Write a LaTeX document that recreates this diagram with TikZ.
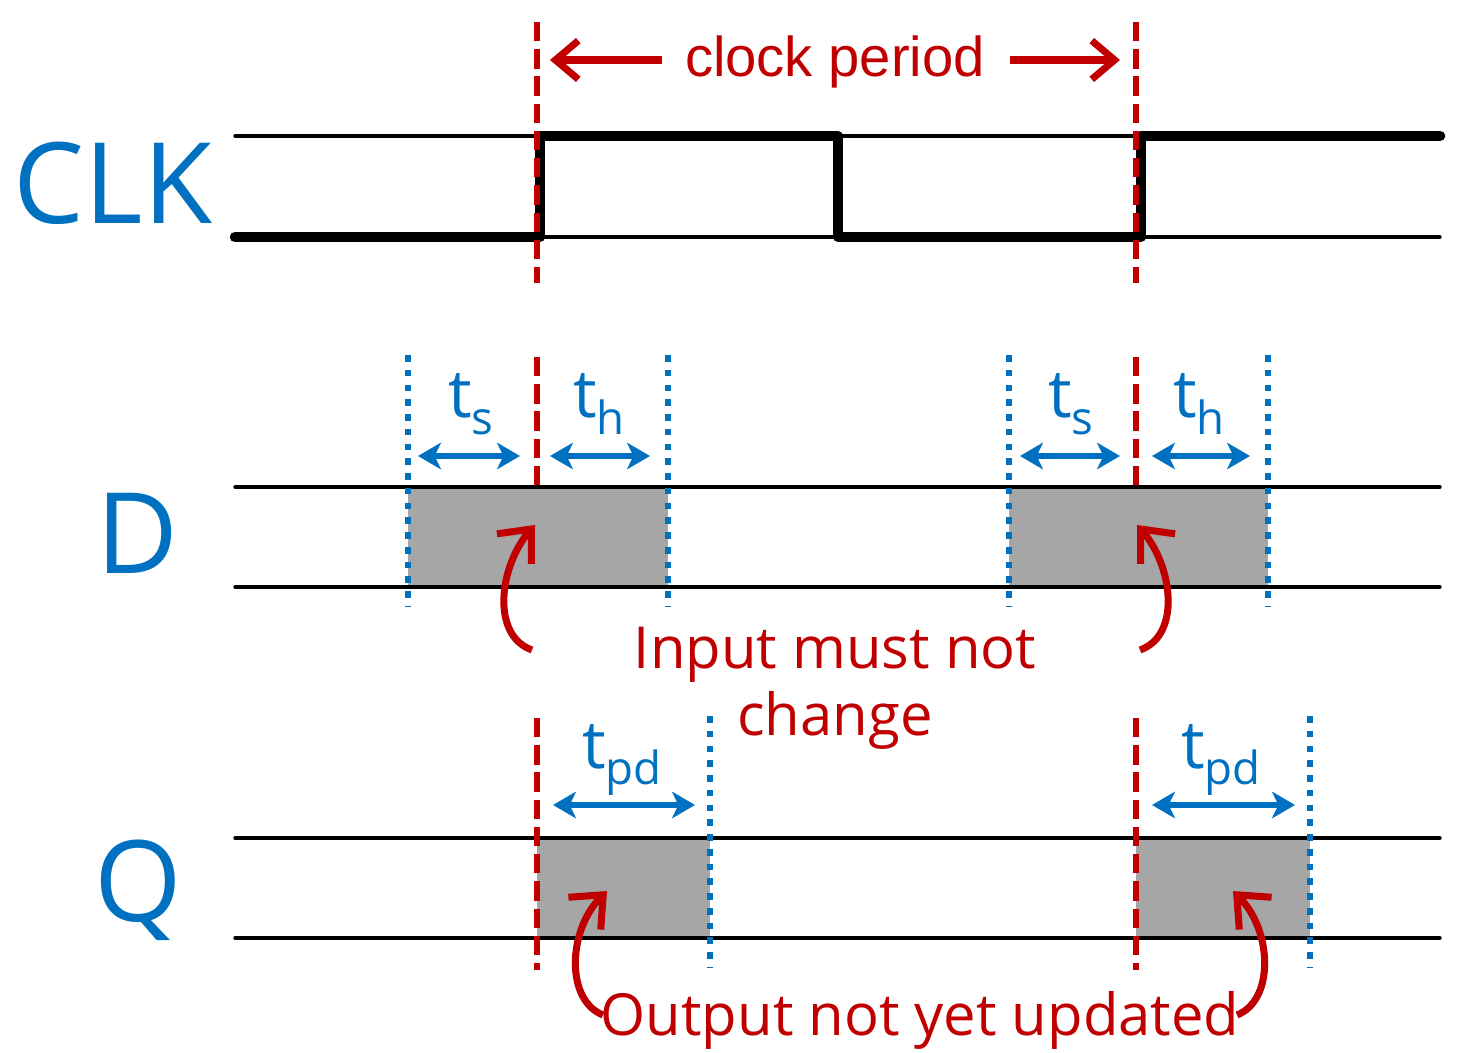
\documentclass[tikz,border=0pt]{standalone}
\usepackage{fontspec}
\setmainfont{Open Sans}
\newfontfamily\periodfont{Liberation Sans}
\usetikzlibrary{arrows.meta,positioning}
\definecolor{darkred}{RGB}{192,0,0}
\definecolor{sigblue}{RGB}{0,112,192}
\definecolor{holdgrey}{RGB}{166,166,166}
\newcommand{\tsub}[1]{t\raisebox{-9.6pt}{\fontsize{26}{26}\selectfont #1}}

\begin{document}
\begin{tikzpicture}[x=0.02cm, y=-0.02cm]
\tikzstyle{rail}=[line width=1.9pt, line cap=round]
\tikzstyle{wave}=[line width=6pt, line join=round, line cap=round]
\tikzstyle{clkedge}=[darkred, line width=3.8pt, dash pattern=on 11pt off 4.5pt]
\tikzstyle{window}=[sigblue, line width=3.8pt, dash pattern=on 3.8pt off 4.6pt]
\tikzstyle{span}=[sigblue, line width=3.4pt, {Stealth[length=13pt,width=15pt,inset=3.5pt]}-{Stealth[length=13pt,width=15pt,inset=3.5pt]}]
\tikzstyle{periodarrow}=[darkred, line width=4pt, -{Straight Barb[length=13pt,width=22pt]}]
\tikzstyle{note}=[darkred, line width=4pt, -{Straight Barb[length=15pt,width=26pt]}]
\tikzstyle{signame}=[sigblue, font=\fontsize{64}{64}\selectfont]
\tikzstyle{timing}=[sigblue, anchor=base, inner sep=0pt, font=\fontsize{38}{38}\selectfont]
\tikzstyle{remark}=[darkred, anchor=base, inner sep=0pt, font=\fontsize{33}{33}\selectfont]
\useasboundingbox (0,0) rectangle (1477,1053);

% hold windows
\fill[holdgrey] (408,487) rectangle (668,585);
\fill[holdgrey] (1009,487) rectangle (1268,585);
\fill[holdgrey] (537,838) rectangle (710,936);
\fill[holdgrey] (1136,838) rectangle (1310,936);

% signal rails
\foreach \y in {136,237,487,587,838,938}
  \draw[rail] (235,\y) -- (1440,\y);

% clock
\draw[wave] (235,237) -- (540,237) -- (540,136) -- (838,136) -- (838,237)
  -- (1141,237) -- (1141,136) -- (1440,136);

% clock edges
\foreach \x in {537,1136} {
  \draw[clkedge] (\x,22) -- (\x,283);
  \draw[clkedge] (\x,357) -- (\x,487);
  \draw[clkedge] (\x,718) -- (\x,970);
}
\foreach \x in {408,668,1009,1268}
  \draw[window] (\x,355) -- (\x,607);
\foreach \x in {710,1310}
  \draw[window] (\x,716) -- (\x,968);

% names
\node[signame] (clk) at (113,183) {CLK};
\node[signame] (d) at (137,533) {D};
\node[signame] (q) at (138,890) {Q};

% clock period
\node[darkred, anchor=base, font=\periodfont\fontsize{32}{32}\selectfont] (period) at (835,77) {clock period};
\coordinate (pl0) at (662,60);
\coordinate (pl1) at (550,60);
\coordinate (pr0) at (1010,60);
\coordinate (pr1) at (1120,60);
\draw[periodarrow] (pl0) -- (pl1);
\draw[periodarrow] (pr0) -- (pr1);

% setup / hold / propagation
\foreach \a/\b/\n in {418/520/s1, 550/650/h1, 1020/1120/s2, 1152/1250/h2} {
  \coordinate (\n a) at (\a,456);
  \coordinate (\n b) at (\b,456);
  \draw[span] (\n a) -- (\n b);
}
\foreach \a/\b/\n in {553/695/p1, 1152/1295/p2} {
  \coordinate (\n a) at (\a,805);
  \coordinate (\n b) at (\b,805);
  \draw[span] (\n a) -- (\n b);
}
\node[timing] (ts1) at (471,418) {\tsub{s}};
\node[timing] (th1) at (599,418) {\tsub{h}};
\node[timing] (ts2) at (1071,418) {\tsub{s}};
\node[timing] (th2) at (1199,418) {\tsub{h}};
\node[timing] (tpd1) at (622,768) {\tsub{pd}};
\node[timing] (tpd2) at (1221,768) {\tsub{pd}};

% remarks
\node[remark] (input) at (835,668) {Input must not};
\node[remark] (change) at (835,735) {change};
\node[remark] (output) at (920,1035) {Output not yet updated};

\coordinate (n1) at (532,650);
\coordinate (m1) at (535,525);
\coordinate (n2) at (1140,650);
\coordinate (m2) at (1137,525);
\coordinate (n3) at (603,1015);
\coordinate (m3) at (607,891);
\coordinate (n4) at (1237,1015);
\coordinate (m4) at (1233,891);
\draw[note] (n1) .. controls (490,635) and (500,565) .. (m1);
\draw[note] (n2) .. controls (1182,635) and (1172,565) .. (m2);
\draw[note] (n3) .. controls (565,1000) and (568,930) .. (m3);
\draw[note] (n4) .. controls (1275,1000) and (1272,930) .. (m4);
\end{tikzpicture}
\end{document}
